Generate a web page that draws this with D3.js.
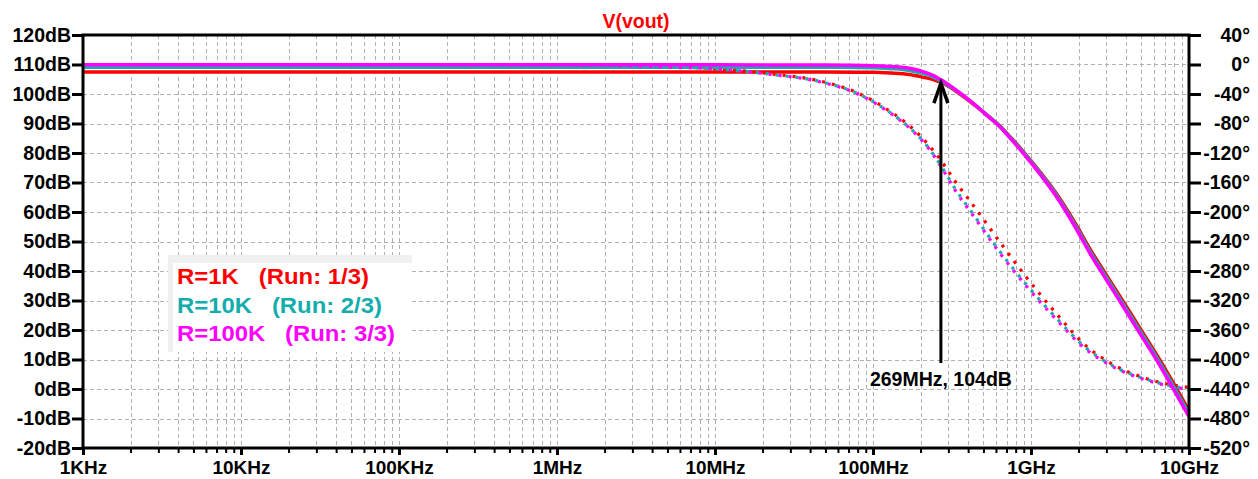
<!DOCTYPE html>
<html>
<head>
<meta charset="utf-8">
<script src="https://cdn.jsdelivr.net/npm/d3@7"></script>
<style>
  html, body { margin: 0; padding: 0; background: #fff; }
  svg { display: block; font-family: "Liberation Sans", Arial, sans-serif; font-weight: bold; }
</style>
</head>
<body>
<svg id="chart" width="1258" height="479"></svg>
<script>
// ---------------- data ----------------
const title = "V(vout)";
const xTickValues = [1e3, 1e4, 1e5, 1e6, 1e7, 1e8, 1e9, 1e10];
const xTickLabels = ["1KHz", "10KHz", "100KHz", "1MHz", "10MHz", "100MHz", "1GHz", "10GHz"];
const dbTicks = [-20, -10, 0, 10, 20, 30, 40, 50, 60, 70, 80, 90, 100, 110, 120];
const phaseTicks = [-520, -480, -440, -400, -360, -320, -280, -240, -200, -160, -120, -80, -40, 0, 40];

const seriesNames = ["R=1K\u00a0\u00a0\u00a0(Run: 1/3)", "R=10K\u00a0\u00a0\u00a0(Run: 2/3)", "R=100K\u00a0\u00a0\u00a0(Run: 3/3)"];
const seriesColors = ["#ff0000", "#14adad", "#ff00ff"];

// magnitude (dB) samples
const magFreq = [1e3, 1e6, 1e7, 5e7, 1e8, 1.3e8, 1.7e8, 2.07e8, 2.4e8, 2.69e8, 3.3e8, 4.31e8, 5.3e8, 6.37e8, 7.5e8, 8.94e8, 1.15e9, 1.45e9, 1.9e9, 2.36e9, 3.0e9, 3.84e9, 5.0e9, 6.24e9, 8.0e9, 1e10];
const magR1K   = [107.45, 107.45, 107.45, 107.42, 107.35, 107.1, 106.6, 105.7, 104.9, 104.0, 101.2, 96.6, 92.8, 89.1, 85.1, 80.5, 73.4, 66.2, 56.3, 47.5, 38.6, 29.6, 19.8, 11.6, 1.8, -7.3];
const magR10K  = [109.1, 109.1, 109.1, 109.05, 108.9, 108.6, 108.0, 107.0, 105.8, 104.4, 101.4, 96.8, 92.7, 89.0, 84.9, 80.2, 73.0, 65.7, 55.6, 46.7, 37.8, 28.7, 18.9, 10.7, 0.8, -8.4];
const magR100K = [109.9, 109.9, 109.9, 109.8, 109.6, 109.3, 108.7, 107.6, 106.3, 104.8, 101.6, 96.8, 92.6, 88.8, 84.6, 79.9, 72.6, 65.2, 55.0, 46.0, 37.0, 27.9, 18.0, 9.8, -0.2, -9.4];

// phase (degrees) samples
const phFreq = [1e3, 1e6, 4.5e6, 1e7, 2.34e7, 4.6e7, 8.1e7, 1.25e8, 1.71e8, 2.29e8, 2.69e8, 3.3e8, 4.31e8, 6.37e8, 9.39e8, 1.45e9, 2.14e9, 3.32e9, 5.4e9, 1e10];
const phR1K   = [0, -0.5, -2.8, -5.6, -13, -22.3, -39, -62, -83.5, -111, -130, -158, -191, -241, -289, -338, -378, -407, -426, -438];
const phR10K  = [0, -0.6, -3, -6, -13.6, -23, -40, -63.5, -86, -115, -137, -168, -203, -254, -299, -344, -381, -409, -427, -440.5];
const phR100K = [0, -0.6, -3, -6, -13.8, -23.3, -40.4, -64, -86.5, -116, -138, -170, -205, -256, -301, -346, -383, -410, -428, -441];

const markerFreq = 269e6;
const markerDb = 104;
const markerLabel = "269MHz, 104dB";

// ---------------- drawing ----------------
const svg = d3.select("#chart");
const L = 83, R = 1189, T = 35, B = 448;
const FS = 19.5;

const x = d3.scaleLog().domain([1e3, 1e10]).range([L, R]);
const yDb = d3.scaleLinear().domain([-20, 120]).range([B, T]);
const yPh = d3.scaleLinear().domain([-520, 40]).range([B, T]);

// grid
const minorFreqs = [];
for (let e = 3; e < 10; e++) for (let m = 1; m <= 9; m++) {
  const f = m * Math.pow(10, e);
  if (f > 1e3 && f < 1e10) minorFreqs.push(f);
}
const grid = svg.append("g").attr("stroke", "#b0b0b0").attr("stroke-width", 1).attr("stroke-dasharray", "4,3");
grid.selectAll("line.v").data(minorFreqs).join("line")
  .attr("x1", d => Math.round(x(d)) + 0.5).attr("x2", d => Math.round(x(d)) + 0.5)
  .attr("y1", T).attr("y2", B);
grid.selectAll("line.h").data(dbTicks.filter(d => d > -20 && d < 120)).join("line")
  .attr("x1", L).attr("x2", R)
  .attr("y1", d => Math.round(yDb(d)) + 0.5).attr("y2", d => Math.round(yDb(d)) + 0.5);

// legend box (opaque)
svg.append("rect").attr("x", 168).attr("y", 255).attr("width", 244).attr("height", 97).attr("fill", "#f0f0f0");
svg.append("rect").attr("x", 173).attr("y", 263).attr("width", 239).attr("height", 89).attr("fill", "#ffffff");

// traces
const magLine = vals => d3.line().x((d, i) => x(magFreq[i])).y(d => yDb(d)).curve(d3.curveMonotoneX)(vals);
const phLine = vals => d3.line().x((d, i) => x(phFreq[i])).y(d => yPh(d)).curve(d3.curveMonotoneX)(vals);
const mags = [magR1K, magR10K, magR100K];
const phs = [phR1K, phR10K, phR100K];
const traces = svg.append("g").attr("fill", "none");
mags.forEach((m, k) => {
  traces.append("path").attr("d", magLine(m)).attr("stroke", seriesColors[k]).attr("stroke-width", 3.5);
  traces.append("path").attr("d", phLine(phs[k])).attr("stroke", seriesColors[k]).attr("stroke-width", 3.2)
    .attr("stroke-dasharray", "3,7").attr("stroke-dashoffset", -3 * k);
});

// frame
svg.append("rect").attr("x", L).attr("y", T).attr("width", R - L).attr("height", B - T)
  .attr("fill", "none").attr("stroke", "#000").attr("stroke-width", 3);

// left axis
const gl = svg.append("g").attr("transform", `translate(${L},0)`)
  .call(d3.axisLeft(yDb).tickValues(dbTicks).tickFormat(d => d + "dB").tickSize(11).tickPadding(1).tickSizeOuter(0));
// right axis
const gr = svg.append("g").attr("transform", `translate(${R},0)`)
  .call(d3.axisRight(yPh).tickValues(phaseTicks).tickFormat(d => d + "°").tickSize(12).tickPadding(2).tickSizeOuter(0));
gr.selectAll("text").attr("x", 1250 - R).attr("text-anchor", "end");
// bottom axis (major)
const gb = svg.append("g").attr("transform", `translate(0,${B})`)
  .call(d3.axisBottom(x).tickValues(xTickValues).tickFormat((d, i) => xTickLabels[i]).tickSize(7).tickPadding(8).tickSizeOuter(0));
// bottom minor ticks
const gm = svg.append("g").attr("transform", `translate(0,${B})`)
  .call(d3.axisBottom(x).tickValues(minorFreqs.filter(f => !xTickValues.includes(f))).tickFormat("").tickSize(5).tickSizeOuter(0));
gm.selectAll("line").attr("stroke-width", 2);
gm.select(".domain").remove();

[gl, gr, gb].forEach(g => {
  g.select(".domain").remove();
  g.selectAll(".tick line").attr("stroke", "#000").attr("stroke-width", 3);
  g.selectAll("text").attr("fill", "#000").style("font-size", FS + "px").style("font-weight", "bold")
    .style("font-family", '"Liberation Sans", Arial, sans-serif');
});
gb.selectAll("text").attr("dy", null).attr("y", 26).style("font-size", "19px");

// title
svg.append("text").attr("x", (L + R) / 2).attr("y", 28).attr("text-anchor", "middle")
  .attr("fill", "#ff0000").style("font-size", FS + "px").text(title);

// legend text
const legendWidths = [192, 205, 218];
const legendY = [284, 312.5, 341];
seriesNames.forEach((s, k) => {
  svg.append("text").attr("x", 177).attr("y", legendY[k]).attr("fill", seriesColors[k])
    .style("font-size", "22.5px").attr("textLength", legendWidths[k]).attr("lengthAdjust", "spacingAndGlyphs").text(s);
});

// marker arrow and label
const mx = x(markerFreq), my = yDb(markerDb);
svg.append("line").attr("x1", mx).attr("x2", mx).attr("y1", 363).attr("y2", my + 2)
  .attr("stroke", "#000").attr("stroke-width", 3);
svg.append("polyline").attr("points", `${mx - 7},${my + 21} ${mx},${my + 1} ${mx + 7},${my + 21}`)
  .attr("fill", "none").attr("stroke", "#000").attr("stroke-width", 3.5).attr("stroke-linejoin", "miter");
svg.append("text").attr("x", mx).attr("y", 386).attr("text-anchor", "middle").attr("fill", "#000")
  .style("font-size", FS + "px").text(markerLabel);
</script>
</body>
</html>
